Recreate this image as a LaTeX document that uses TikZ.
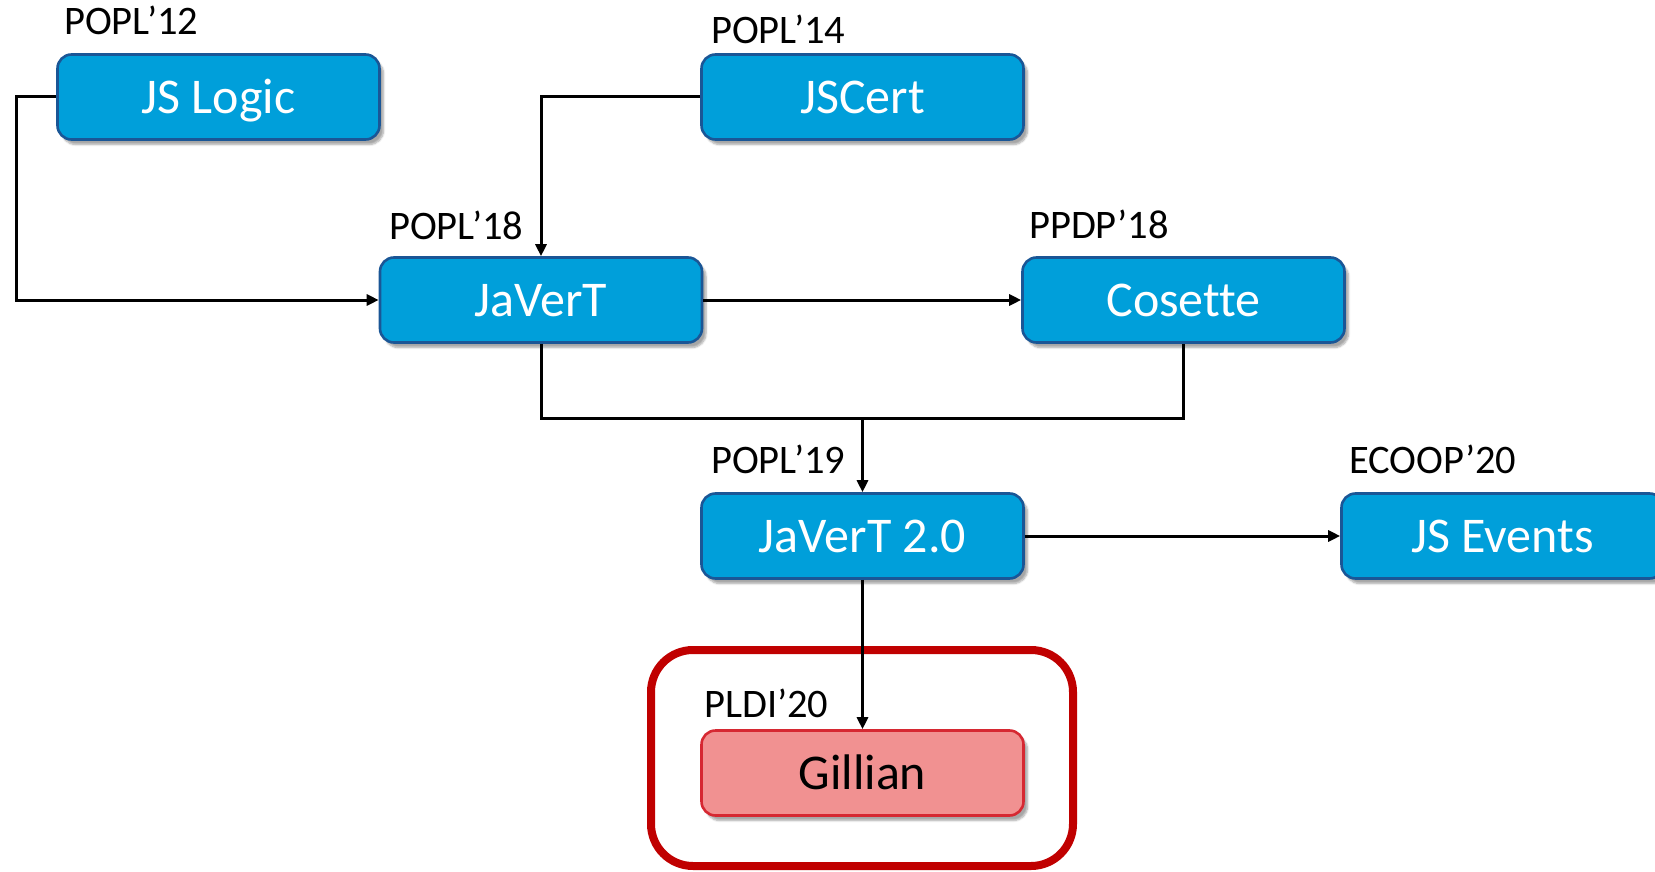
\documentclass[tikz,border=0pt]{standalone}
\usepackage{fontspec}
\setmainfont[Ligatures=NoCommon]{Carlito}
\usetikzlibrary{arrows.meta,shadows.blur}
\definecolor{boxfill}{RGB}{0,159,218}
\definecolor{boxline}{RGB}{26,86,150}
\definecolor{gilfill}{RGB}{241,145,145}
\definecolor{gilline}{RGB}{214,40,50}
\definecolor{frame}{RGB}{192,0,0}
\tikzset{
  boxnode/.style={rectangle, rounded corners=14pt, minimum width=322pt, minimum height=85pt,
    inner sep=0pt, text height=33pt, text depth=0pt, fill=boxfill, draw=boxline, line width=2.6pt, text=white,
    font=\fontsize{50}{60}\selectfont,
    blur shadow={shadow xshift=4pt, shadow yshift=-5pt, shadow blur steps=6, shadow opacity=35}},
  gilnode/.style={boxnode, fill=gilfill, draw=gilline, text=black},
  venue/.style={anchor=base west, inner sep=0pt, font=\fontsize{40.5}{48}\selectfont},
  conn/.style={draw=black, line width=3pt},
  arr/.style={conn, -{Triangle[length=12pt,width=11pt]}},
}
\begin{document}
\begin{tikzpicture}[x=1pt,y=-1pt]
\useasboundingbox (0,0) rectangle (1655,872);
% nodes
\node[boxnode] (jslogic) at (218.5,97) {JS Logic};
\node[boxnode] (jscert) at (862.5,97) {JSCert};
\node[boxnode] (javert) at (541,300) {JaVerT};
\node[boxnode] (cosette) at (1183.5,300) {Cosette};
\node[boxnode] (javert2) at (862.5,536) {JaVerT 2.0};
\node[boxnode] (jsevents) at (1502.5,536) {JS Events};
\node[gilnode] (gillian) at (862.5,773) {Gillian};
% frame
\draw[frame, line width=8pt, rounded corners=42pt] (651,650) rectangle (1073,866);
% venue labels
\node[venue] (l12) at (64,35) {POPL’12};
\node[venue] (l14) at (711,44) {POPL’14};
\node[venue] (l18) at (389,239) {POPL’18};
\node[venue] (p18) at (1029,238) {PPDP’18};
\node[venue] (l19) at (711,473) {POPL’19};
\node[venue] (e20) at (1349,473) {ECOOP’20};
\node[venue] (p20) at (704,717) {PLDI’20};
% connectors
\coordinate (lcorner) at (16,97);
\coordinate (merge) at (862.5,418);
\draw[arr] (jslogic.west) -- (lcorner) |- (javert.west);
\draw[arr] (jscert.west) -| (javert.north);
\draw[arr] (javert.east) -- (cosette.west);
\draw[conn] (javert.south) |- (merge) -| (cosette.south);
\draw[arr] (merge) -- (javert2.north);
\draw[arr] (javert2.east) -- (jsevents.west);
\draw[arr] (javert2.south) -- (gillian.north);
\end{tikzpicture}
\end{document}
